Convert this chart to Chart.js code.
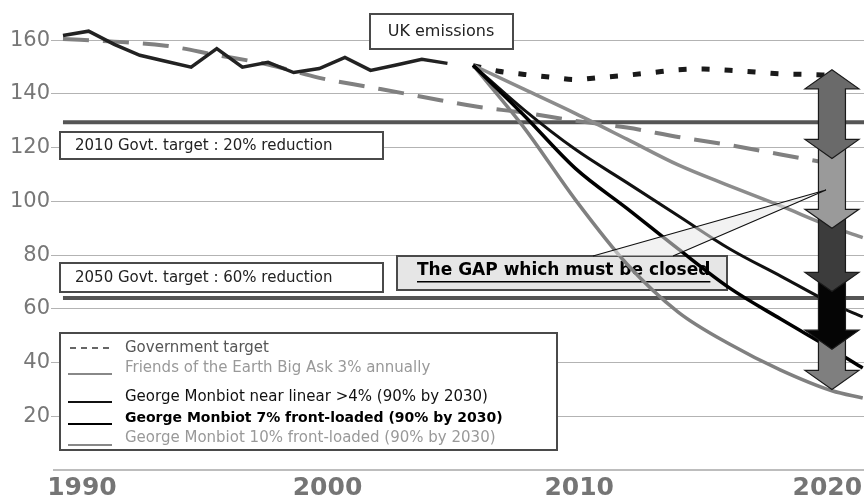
<!DOCTYPE html>
<html>
<head>
<meta charset="utf-8">
<script src="https://cdn.jsdelivr.net/npm/chart.js@4.4.0/dist/chart.umd.min.js"></script>
<style>
  html, body { margin: 0; padding: 0; background: #fff; }
  #wrap { width: 864px; height: 501px; position: relative; }
</style>
</head>
<body>
<div id="wrap"><canvas id="chart"></canvas></div>
<script>
// ---------------- DATA ----------------
const emissionYears = [1990,1991,1992,1993,1994,1995,1996,1997,1998,1999,2000,2001,2002,2003,2004,2005];
const ukEmissions   = [161.8,163.4,158.5,154.4,152.2,150,156.9,150,151.8,148,149.5,153.6,148.8,150.8,152.9,151.4];

const govYears   = [1990,1992,1994,1996,1998,2000,2002,2004,2006,2008,2010,2012,2014,2016,2018,2020];
const govTarget  = [160.5,159.5,158,154.5,151,146,142.5,139,135.5,133,130,127.5,124,121,117.5,114];

const bauYears = [2006,2007,2008,2009,2010,2011,2012,2013,2014,2015,2016,2017,2018,2019,2020];
const businessAsUsual = [150.5,148.5,147.3,146.3,145.4,146.2,147,148,149,149.3,148.8,148.2,147.5,147.3,147];

const projYears     = [2006,2008,2010,2012,2014,2016,2018,2020,2021.2];
const foeBigAsk     = [150.7,141.7,132.7,123.2,113.6,105.8,98.3,90.5,86.5];
const monbiotLinear = [150.7,134,119.3,107,94.7,82.4,72.2,62,57];
const monbiot7      = [150.7,131.9,112.2,97.4,82.3,67.8,56.2,45,38];
const monbiot10     = [150.7,127.3,100.5,76.7,58.8,46.9,37.2,29.5,26.8];

const targetYears = [1990, 2021.3];
const target2010  = [129.5, 129.5];
const target2050  = [64, 64];

// tops/bottoms of the stacked "gap" arrows at 2020
const gapYear   = 2020;
const gapLevels = [149, 116, 90, 66.5, 45, 30];
const gapColors = ['#6a6a6a', '#9a9a9a', '#3c3c3c', '#050505', '#7f7f7f'];

const xTicks = [1990, 2000, 2010, 2020];
const xTickLabels = ['1990', '2000', '2010', '2020'];
// the year labels in the original sit a little off their years
const xLabelNudge = [0.74, 0.32, 0.14, -0.18];
const yTicks = [20, 40, 60, 80, 100, 120, 140, 160];

const legendRows = [
  {sym: '----', text: 'Government target', color: '#555', symColor: '#666', bold: false},
  {sym: '____', text: 'Friends of the Earth Big Ask 3% annually', color: '#999', symColor: '#888', bold: false},
  {sym: '____', text: 'George Monbiot near linear >4% (90% by 2030)', color: '#111', symColor: '#111', bold: false},
  {sym: '____', text: 'George Monbiot 7% front-loaded (90% by 2030)', color: '#000', symColor: '#000', bold: true},
  {sym: '____', text: 'George Monbiot 10% front-loaded (90% by 2030)', color: '#999', symColor: '#888', bold: false}
];

const FONT = '"DejaVu Sans", Verdana, sans-serif';
const pts = (xs, ys) => xs.map((x, i) => ({x: x, y: ys[i]}));

// ---------------- DRAW HELPERS ----------------
function box(ctx, x, y, w, h, fill){
  ctx.fillStyle = fill;
  ctx.fillRect(x, y, w, h);
  ctx.lineWidth = 2;
  ctx.strokeStyle = '#4a4a4a';
  ctx.strokeRect(x, y, w, h);
}

function arrowPath(ctx, cx, top, bottom, doubleHead){
  const sw = 13.5, hw = 27, hh = 19;
  ctx.beginPath();
  if(doubleHead){
    ctx.moveTo(cx, top);
    ctx.lineTo(cx + hw, top + hh);
    ctx.lineTo(cx + sw, top + hh);
  } else {
    ctx.moveTo(cx + sw, top);
  }
  ctx.lineTo(cx + sw, bottom - hh);
  ctx.lineTo(cx + hw, bottom - hh);
  ctx.lineTo(cx, bottom);
  ctx.lineTo(cx - hw, bottom - hh);
  ctx.lineTo(cx - sw, bottom - hh);
  if(doubleHead){
    ctx.lineTo(cx - sw, top + hh);
    ctx.lineTo(cx - hw, top + hh);
  } else {
    ctx.lineTo(cx - sw, top);
  }
  ctx.closePath();
}

const notes = {
  id: 'notes',
  beforeDatasetsDraw(chart){
    const ctx = chart.ctx;
    ctx.save();
    ctx.textBaseline = 'middle';

    box(ctx, 370, 14, 143, 35, '#fff');
    ctx.fillStyle = '#222';
    ctx.font = '16px ' + FONT;
    ctx.textAlign = 'center';
    ctx.fillText('UK emissions', 441, 32);

    ctx.textAlign = 'left';
    ctx.font = '15px ' + FONT;
    box(ctx, 60, 132, 323, 27, '#fff');
    ctx.fillStyle = '#222';
    ctx.fillText('2010 Govt. target : 20% reduction', 75, 146);
    box(ctx, 60, 263, 323, 29, '#fff');
    ctx.fillStyle = '#222';
    ctx.fillText('2050 Govt. target : 60% reduction', 75, 278);

    // the GAP box
    box(ctx, 397, 256, 330, 34, '#e6e6e6');
    ctx.fillStyle = '#000';
    ctx.font = 'bold 17px ' + FONT;
    const t = 'The GAP which must be closed';
    ctx.fillText(t, 417, 271);
    const w = ctx.measureText(t).width;
    ctx.fillRect(417, 281, w, 1.5);
    ctx.restore();
  },
  afterDatasetsDraw(chart){
    const ctx = chart.ctx;
    const xs = chart.scales.x, ys = chart.scales.y;
    ctx.save();

    // stacked gap arrows, drawn bottom-up so each head sits over the next shaft
    const cx = xs.getPixelForValue(gapYear);
    for(let i = gapLevels.length - 2; i >= 0; i--){
      const top = ys.getPixelForValue(gapLevels[i]) - (i === 0 ? 0 : 19);
      const bottom = ys.getPixelForValue(gapLevels[i + 1]);
      arrowPath(ctx, cx, top, bottom, i === 0);
      ctx.fillStyle = gapColors[i];
      ctx.fill();
      ctx.lineWidth = 1.2;
      ctx.strokeStyle = '#1a1a1a';
      ctx.stroke();
    }

    // callout from the GAP box to the arrows
    ctx.beginPath();
    ctx.moveTo(593, 256);
    ctx.lineTo(826, 190);
    ctx.lineTo(673, 256);
    ctx.closePath();
    ctx.fillStyle = 'rgba(232,232,232,0.55)';
    ctx.fill();
    ctx.beginPath();
    ctx.moveTo(593, 256);
    ctx.lineTo(826, 190);
    ctx.lineTo(673, 256);
    ctx.lineWidth = 1.2;
    ctx.strokeStyle = '#111';
    ctx.stroke();

    // legend
    box(ctx, 60, 333, 497, 117, '#fff');
    const rowY = [348, 368, 397, 418, 438];
    const symY = [348, 374, 402, 424, 445];
    ctx.textBaseline = 'middle';
    ctx.textAlign = 'left';
    legendRows.forEach((r, i) => {
      ctx.strokeStyle = r.symColor;
      ctx.lineWidth = 2;
      ctx.beginPath();
      if(r.sym === '----'){
        ctx.setLineDash([6, 5]);
        ctx.moveTo(70, symY[i]);
        ctx.lineTo(110, symY[i]);
      } else {
        ctx.setLineDash([]);
        ctx.moveTo(68, symY[i]);
        ctx.lineTo(112, symY[i]);
      }
      ctx.stroke();
      ctx.setLineDash([]);
      ctx.fillStyle = r.color;
      ctx.font = (r.bold ? 'bold 14px ' : '15px ') + FONT;
      ctx.fillText(r.text, 125, rowY[i]);
    });
    ctx.restore();
  }
};

// ---------------- CHART ----------------
const line = (label, data, color, width, dash, tension) => ({
  label: label,
  data: data,
  borderColor: color,
  borderWidth: width,
  borderDash: dash || [],
  borderCapStyle: 'butt',
  cubicInterpolationMode: tension ? 'monotone' : 'default',
  tension: 0,
  pointRadius: 0,
  fill: false
});

new Chart(document.getElementById('chart'), {
  type: 'line',
  data: {
    datasets: [
      line('UK emissions', pts(emissionYears, ukEmissions), '#222', 3.5),
      line('George Monbiot 7% front-loaded', pts(projYears, monbiot7), '#000', 3.5, null, true),
      line('George Monbiot near linear >4%', pts(projYears, monbiotLinear), '#111', 3, null, true),
      line('George Monbiot 10% front-loaded', pts(projYears, monbiot10), '#808080', 3.5, null, true),
      line('Friends of the Earth Big Ask 3%', pts(projYears, foeBigAsk), '#8c8c8c', 3.5, null, true),
      line('Government target', pts(govYears, govTarget), '#808080', 4, [26, 14], true),
      line('Business as usual', pts(bauYears, businessAsUsual), '#1a1a1a', 5, [8, 15], true),
      line('2010 Govt. target', pts(targetYears, target2010), '#555', 4),
      line('2050 Govt. target', pts(targetYears, target2050), '#555', 4)
    ]
  },
  options: {
    responsive: true,
    maintainAspectRatio: false,
    animation: false,
    layout: { padding: 0 },
    plugins: { legend: { display: false }, tooltip: { enabled: false } },
    scales: {
      x: {
        type: 'linear',
        min: 1989.65,
        max: 2021.25,
        afterBuildTicks: s => { s.ticks = xTicks.map((v, i) => ({value: v + xLabelNudge[i]})); },
        afterFit: s => { s.height = 31; s.paddingLeft = 0; s.paddingRight = 0; },
        grid: { display: false },
        border: { display: true, color: '#bdbdbd', width: 2 },
        ticks: {
          padding: -5,
          color: '#757575',
          font: { family: FONT, size: 25, weight: 'bold' },
          callback: (v, i) => xTickLabels[i]
        }
      },
      y: {
        min: 0,
        max: 175,
        afterBuildTicks: s => { s.ticks = yTicks.map(v => ({value: v})); },
        afterFit: s => { s.width = 54; s.paddingTop = 0; s.paddingBottom = 0; },
        grid: { color: '#b3b3b3', lineWidth: 1, tickLength: 3 },
        border: { display: false },
        ticks: {
          padding: 1,
          color: '#777',
          font: { family: FONT, size: 21 }
        }
      }
    }
  },
  plugins: [notes]
});
</script>
</body>
</html>
